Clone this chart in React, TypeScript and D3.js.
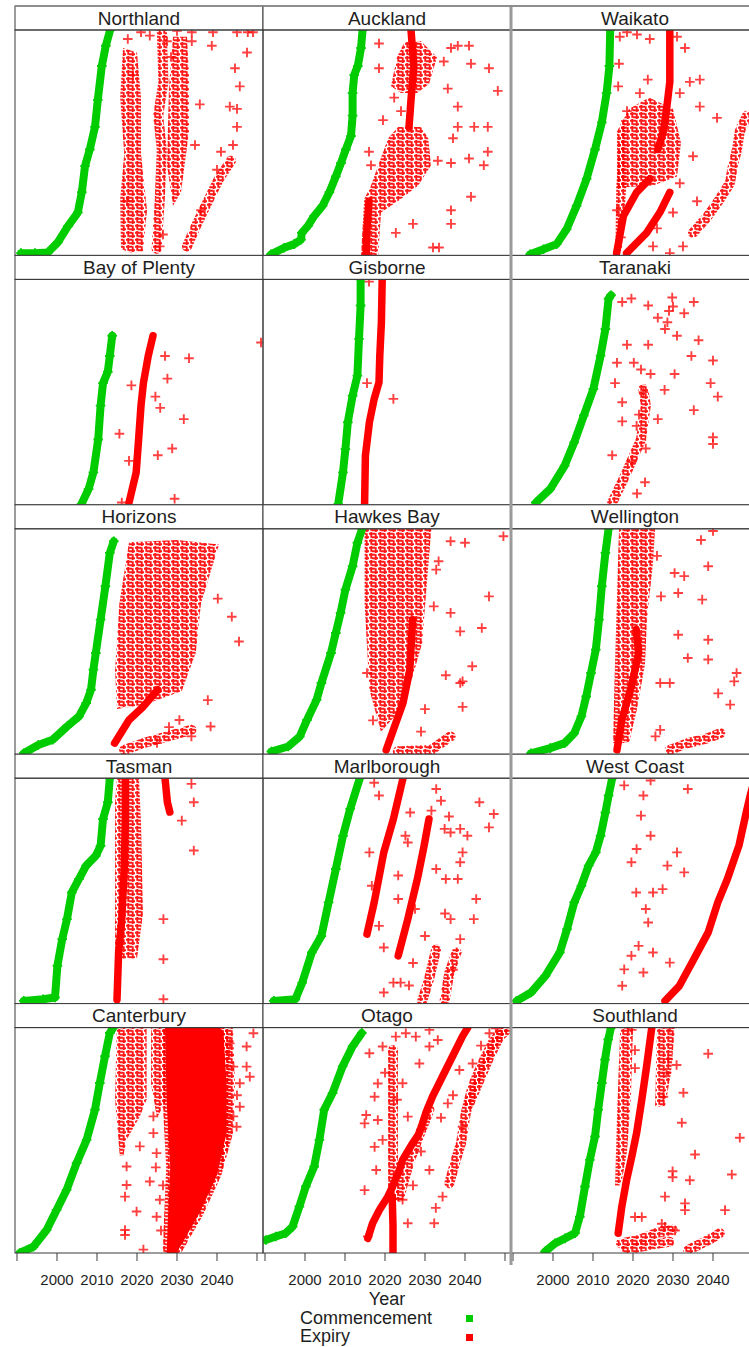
import React from "react";
import * as d3 from "d3";

type Pt = [number, number];

// panels in reading order (3 columns x 5 rows)
const regions = [
  "Northland", "Auckland", "Waikato",
  "Bay of Plenty", "Gisborne", "Taranaki",
  "Horizons", "Hawkes Bay", "Wellington",
  "Tasman", "Marlborough", "West Coast",
  "Canterbury", "Otago", "Southland",
];

const yearTicks = [1990, 2000, 2010, 2020, 2030, 2040, 2050];
const yearLabels = [2000, 2010, 2020, 2030, 2040];
const legendKeys = ["Commencement", "Expiry"];

// commencement year vs rank (% of consents), sorted by commencement
const commencement: Pt[][] = [
  [[1991, 1], [1994.5, 1], [1997.7, 1.3], [2000.2, 5.8], [2002.7, 12.9], [2005.2, 19], [2006.2, 28], [2007, 39.6], [2008.2, 47], [2009.5, 57], [2010.2, 69], [2011.2, 84], [2012.2, 93], [2013.3, 100]],
  [[1991.5, 0.5], [1994.8, 3.4], [1997.3, 5], [1999, 7], [1999.2, 10], [2000.7, 13], [2002.3, 17.5], [2004.4, 22], [2006.1, 28], [2007.7, 35], [2009, 41], [2010.2, 47], [2011.5, 53], [2011.9, 62], [2011.9, 72], [2012.3, 80], [2013.2, 84], [2014, 92], [2014.4, 100]],
  [[1994.3, 0.5], [1997.6, 2.7], [2000.9, 5], [2003.4, 11.6], [2005.9, 22], [2008.4, 34], [2010.5, 47], [2012.2, 59], [2013.4, 72], [2014.1, 84], [2014.3, 100]],
  [[2006.1, 0.3], [2007.9, 7], [2009.1, 14.4], [2010.3, 29], [2010.9, 44], [2011.5, 54], [2012.7, 59], [2013.2, 66], [2013.8, 75]],
  [[2008.3, 0.3], [2009.5, 14.4], [2010.1, 24.7], [2010.7, 36.6], [2011.9, 48.4], [2013.1, 57.3], [2013.5, 73.6], [2013.9, 88.4], [2013.9, 100]],
  [[1995.7, 1], [1999.3, 7], [2002.9, 17.3], [2005.3, 27.7], [2007.7, 39.6], [2010.1, 51.4], [2011.9, 66.2], [2013.1, 78], [2013.9, 91.4], [2014.5, 93]],
  [[1991.7, 0.4], [1995.3, 4.1], [1998.9, 6.4], [2002.5, 12.3], [2005.5, 16.8], [2007.3, 22.7], [2008.5, 28.6], [2009.1, 37.5], [2009.7, 44.9], [2010.9, 59.7], [2012.1, 74.5], [2013.2, 89.3], [2014.2, 94.5]],
  [[1991.6, 1.2], [1995.8, 3.4], [1998.7, 7.9], [2000.5, 15.2], [2002.9, 24.1], [2004.1, 31.6], [2006.5, 44.9], [2007.7, 53.8], [2008.9, 62.7], [2010.1, 73], [2011.9, 83.4], [2013.1, 93.8], [2014.3, 100]],
  [[1994.5, 0.4], [1999.3, 2.7], [2002.9, 4.9], [2005.3, 9.3], [2007.1, 16.8], [2008.3, 25.6], [2009.5, 36], [2010.7, 46.4], [2011.5, 59.7], [2012.2, 74.5], [2013.1, 89.3], [2013.9, 100]],
  [[1991.7, 1.2], [1996.5, 1.9], [1999.5, 2.7], [2000.1, 16.8], [2001.3, 28.6], [2002.5, 37.5], [2003.7, 49.3], [2005.5, 55.3], [2007.3, 61.2], [2009.7, 65.6], [2010.9, 70], [2011.5, 81.9], [2012.7, 89.3], [2013.2, 100]],
  [[1992.2, 1.2], [1997.6, 1.9], [1999.3, 9.3], [2001.7, 22.7], [2004.1, 30], [2005.9, 44.9], [2007.7, 59.7], [2009.5, 74.5], [2011.3, 86.4], [2013.7, 100]],
  [[1990.9, 1.2], [1994.5, 4.9], [1998.1, 12.3], [2001.7, 22.7], [2003.5, 33], [2005.3, 44.9], [2007.1, 52.3], [2008.9, 61.2], [2010.7, 67.1], [2011.9, 74.5], [2013.1, 84.8], [2013.9, 92.3], [2014.8, 100]],
  [[1990.7, 0], [1994.1, 2.8], [1997.4, 10.2], [1999.9, 19.1], [2002.4, 28], [2004.9, 39.9], [2007.4, 50.2], [2009.5, 63.6], [2010.7, 75.4], [2012, 87.3], [2013.2, 97.6], [2014.1, 100]],
  [[1990.2, 5.8], [1992.7, 7.3], [1995.2, 8.8], [1996.9, 11.7], [1998.6, 20.6], [2000.2, 29.5], [2002.3, 38.4], [2003.6, 50.2], [2004.8, 63.6], [2006.9, 71], [2009.4, 82.8], [2011.9, 91.7], [2014.2, 97.6]],
  [[1998, 0.6], [2000.5, 4.3], [2003, 6.5], [2005.5, 8.8], [2006.7, 16.1], [2008, 29.5], [2009.2, 41.3], [2010.5, 51.7], [2011.3, 63.6], [2012.2, 75.4], [2013, 85.8], [2013.8, 94.7], [2014.5, 100]],
];

// expiry: runs of consents so packed they read as a solid band
const expiryBands: Pt[][][] = [
  [],
  [[[2026, 57], [2026.5, 69], [2027.2, 84], [2026.5, 100]], [[2015.3, 0], [2015.5, 12], [2016, 24]]],
  [[[2026.2, 47], [2027.6, 55], [2028.4, 65], [2029.2, 77], [2029.2, 100]], [[2015.9, 1], [2017.6, 17.5], [2020.9, 28], [2024.2, 34]], [[2018.4, 1], [2023.4, 10], [2026.7, 19], [2029.2, 28]]],
  [[[2018, 1], [2019.8, 14.4], [2020.4, 29], [2021, 44], [2021.6, 54], [2022.8, 66], [2024, 75]]],
  [[[2014.9, 0.3], [2015.1, 21.8], [2016.1, 36.6], [2017.3, 47], [2018.5, 54.4], [2018.7, 66.2], [2019.1, 81], [2019.3, 100]]],
  [],
  [[[2014.4, 4.9], [2018, 15.2], [2021.6, 21.2], [2025.2, 28.6]]],
  [[[2020.3, 1.9], [2022.1, 10.8], [2024.5, 22.7], [2026.2, 37.5], [2026.9, 59.7]]],
  [[[2016, 1.9], [2017.2, 15.2], [2019.6, 30], [2021.4, 44.9], [2020.8, 55.3]]],
  [[[2015, 1.8], [2015.4, 22.7], [2016.2, 37.5], [2016.8, 59.7], [2017.1, 81.9], [2017.1, 100]], [[2027, 100], [2027.6, 89.3], [2028.2, 85]]],
  [[[2015.5, 30.8], [2017.3, 44.9], [2019.7, 67.1], [2022.1, 81.9], [2024.5, 100]], [[2023.3, 21.2], [2025.7, 37.5], [2028.1, 55.3], [2029.8, 70.2], [2031, 81.9]]],
  [[[2028, 1.2], [2031.6, 7.9], [2035.2, 19.7], [2038.8, 31.6], [2041.2, 44.9], [2043.6, 55.3], [2046.5, 70.2], [2048.3, 84.8], [2049.3, 92.3], [2050.5, 100]]],
  [],
  [[[2022, 0], [2022, 12], [2021.8, 25]], [[2015.7, 6.5], [2016.9, 13.2], [2018.6, 19.1], [2020.7, 25], [2021.9, 29.5], [2023.6, 36.9], [2024.4, 41.3], [2026.9, 48.7], [2028.6, 53.2], [2030.2, 62.1], [2031.9, 69.5], [2034.4, 78.4], [2036.9, 87.3], [2039.4, 96.2], [2040.7, 100]]],
  [[[2016.3, 8.8], [2017.2, 20.6], [2018.4, 32.4], [2019.7, 42.8], [2020.9, 53.2], [2022.2, 68], [2023.4, 82.8], [2024.7, 100]]],
];

// expiry: looser runs of markers
const expiryRuns: Pt[][][] = [
  [[[2024.9, 3], [2025.7, 25], [2026.2, 47], [2025.3, 62], [2026.6, 77], [2026.2, 100]], [[2032.5, 4], [2035, 14], [2038, 25], [2040.5, 34], [2043.5, 42]]],
  [],
  [[[2035, 10], [2038.5, 17], [2041.7, 25], [2044.2, 32], [2045, 40], [2046, 47], [2046.7, 55], [2048.5, 62]]],
  [],
  [],
  [[[2014.8, 1], [2018.4, 14.4], [2022, 29], [2023.2, 44], [2022.6, 51.4]]],
  [[[2016.8, 1.9], [2021.6, 4.9], [2027.6, 7.9], [2033.6, 10.8]]],
  [[[2023.2, 1.3], [2031.6, 1.9], [2036.4, 7.9]]],
  [[[2029.2, 1.9], [2033.7, 4.9], [2038.8, 7.1], [2041.8, 9.3]]],
  [],
  [[[2029.3, 1.2], [2031, 10.8], [2032.2, 19.7], [2032.8, 24.1]], [[2034.9, 1.2], [2036.1, 13.8], [2037.9, 22.7]]],
  [],
  [],
  [[[2023.6, 25], [2026, 40], [2028.5, 52], [2031.1, 63.6]], [[2036.1, 31], [2037.7, 41.3], [2039, 48.7], [2040.2, 62.1], [2041.9, 73.9], [2044.4, 84.3], [2046.9, 93.2], [2049.4, 99]], [[2041.1, 66.4], [2043.6, 76.7], [2046.1, 87.1], [2048.6, 96], [2051, 100]], [[2022, 25], [2022, 90]]],
  [[[2017, 4.3], [2021.6, 5.8], [2025.7, 8.8], [2029.9, 10.3]], [[2018.2, 1.3], [2024.1, 3.6], [2029.1, 5]], [[2033.8, 1.3], [2037.2, 4.3], [2039.7, 6.5], [2041.7, 8.8]]],
];

// expiry: outlines of crowded clouds of markers
const expiryClouds: Pt[][][] = [
  [[[2016, 3], [2018.5, 1], [2021.5, 2], [2022.5, 20], [2021, 45], [2021, 70], [2020, 90], [2016.5, 92], [2015.8, 70], [2016.8, 45], [2015.8, 25]], [[2027.5, 40], [2029, 22], [2031, 28], [2033, 55], [2033, 80], [2032.5, 97], [2029, 97], [2028, 75]]],
  [[[2014, 0], [2014.8, 25], [2016.5, 31], [2018.3, 40], [2020.8, 52], [2023.3, 57], [2026, 57], [2029, 57], [2030.8, 52], [2031.5, 40], [2028.3, 31], [2024, 25], [2019, 19], [2018.3, 0]], [[2021.5, 75], [2023, 88], [2025, 95], [2029, 95], [2033, 88], [2031, 76], [2028, 72], [2024, 72]]],
  [[[2016, 30], [2016, 55], [2019, 65], [2024, 70], [2030, 65], [2032, 50], [2031, 35], [2025, 31]], [[2015.6, 2], [2017.2, 2], [2018.3, 30], [2018, 60], [2017, 60], [2015.8, 30]]],
  [],
  [],
  [],
  [[[2015, 20], [2014.5, 37], [2015.6, 67], [2018, 94], [2030, 95], [2040.5, 93], [2036, 67], [2034.7, 45], [2031.2, 28], [2022, 22]]],
  [[[2014.9, 100], [2031.6, 100], [2030.4, 74.5], [2029.3, 49.3], [2026.9, 34.5], [2024, 20], [2019, 10], [2016.1, 28.6], [2014.9, 67]]],
  [[[2015, 5], [2015.5, 40], [2016, 70], [2016.5, 100], [2025.5, 100], [2025, 85], [2023.5, 60], [2023, 40], [2021, 20], [2019, 5]]],
  [[[2014.5, 20], [2014.5, 90], [2015, 100], [2020.5, 100], [2021, 80], [2021.5, 40], [2020, 20]]],
  [],
  [],
  [[[2014.9, 97.6], [2014.5, 68], [2015.7, 43], [2016.6, 43], [2017.4, 50.2], [2020.7, 60.6], [2022.4, 68], [2022.4, 100], [2015, 100]], [[2023.5, 100], [2027, 100], [2027.4, 68], [2025, 60], [2023.5, 75]], [[2040, 100], [2044, 100], [2044.5, 75], [2044, 53], [2041, 34]]],
  [],
  [[[2015.5, 30], [2016, 60], [2016.8, 100], [2020, 100], [2019.5, 70], [2018.5, 45], [2017, 30]], [[2025.5, 65], [2026, 100], [2030.5, 100], [2029.5, 80], [2028, 65]]],
];

// expiry: the near-solid mass in Canterbury
const expiryMasses: Pt[][][] = [
  [], [], [], [], [], [], [], [], [], [], [], [],
  [[[2027.4, 0], [2028.3, 38], [2027.4, 68], [2027, 100], [2040.7, 100], [2041.6, 98], [2042.4, 75], [2042.4, 53], [2039.9, 34], [2035.7, 18], [2029.9, 0]]],
  [], [],
];

// expiry: separate markers
const expiryPoints: Pt[][] = [
  [[2017.7, 96], [2023.2, 97.5], [2030, 99.6], [2033.7, 99], [2033.7, 95], [2039, 99], [2038.7, 93], [2045, 99], [2049, 99], [2047.5, 90], [2044.5, 83], [2045.7, 75], [2043.2, 66], [2035.7, 67], [2045, 57], [2044, 49], [2034.5, 49], [2017.5, 24], [2026.5, 9.3], [2025.7, 4], [2045, 65], [2047.7, 99], [2040, 38], [2036, 20], [2021, 99], [2027.5, 95], [2028.5, 88], [2019, 80], [2041, 46]],
  [[2018.5, 94], [2018.5, 83], [2022.3, 70], [2016, 46], [2016.5, 40], [2034.7, 86], [2035.7, 74], [2036.5, 92], [2038.2, 93], [2041, 93], [2041.5, 85], [2046, 83], [2048.2, 73], [2038.2, 66], [2038.2, 57], [2037, 52], [2042.3, 57], [2045.7, 57], [2045.7, 46], [2041, 43], [2044.7, 40], [2036.5, 41], [2033.2, 42], [2041.5, 26], [2036.5, 20], [2036.5, 14], [2027, 14], [2022.7, 10], [2032, 3.5], [2033.5, 3.5], [2019.5, 60], [2024, 64]],
  [[2016.7, 97], [2018.5, 99], [2021, 98], [2024.2, 96], [2034.2, 77], [2036.7, 66], [2036.7, 78], [2041, 61], [2031.7, 72], [2023.7, 78], [2021.7, 72], [2018.5, 64], [2035, 44], [2031.7, 32], [2036, 24], [2030, 19], [2026, 12], [2032.5, 4], [2025, 4], [2029.2, 1], [2016.5, 85], [2016.3, 75], [2016, 20], [2017, 8], [2033, 92], [2031, 97]],
  [[2027, 66], [2033, 65], [2027.6, 56], [2018.6, 53], [2024.6, 48], [2025.8, 43], [2031.7, 38], [2015.6, 31.5], [2028.8, 25], [2025.2, 22], [2018, 19.5], [2029.4, 2.7], [2016.2, 1], [2051, 72]],
  [[2022.1, 47], [2015.5, 54], [2016, 99]],
  [[2017.3, 90], [2019.6, 91.5], [2023.8, 88.4], [2026.2, 83], [2028.6, 81], [2029.8, 92], [2031, 75], [2032.8, 85], [2035.2, 90], [2036.4, 73], [2034.6, 66], [2040, 64], [2039.4, 54], [2041.2, 48], [2035.2, 42], [2040, 30], [2018.5, 71], [2023.8, 71], [2016, 63], [2020.2, 63], [2024.4, 58], [2030.4, 58], [2015.5, 54], [2022.6, 50], [2027.9, 51], [2017.3, 45.5], [2026.2, 38], [2017.3, 37], [2020.9, 35], [2014.8, 22], [2019.6, 19], [2023.2, 25], [2040, 27], [2029, 86], [2028, 78], [2030, 88], [2022, 60], [2021.5, 40], [2023, 10], [2021, 5]],
  [[2040.2, 69], [2043.7, 61], [2045.5, 50], [2037.7, 24], [2038.4, 12.3], [2030.6, 15.2], [2033.6, 7.9], [2028, 12], [2025, 5]],
  [[2036.4, 94.5], [2040, 93.8], [2049.6, 96.7], [2033.4, 85.6], [2032.8, 81.9], [2046, 70], [2032.2, 65.6], [2036.4, 62.7], [2044.2, 56], [2038.8, 54.5], [2041.8, 39], [2035.2, 35], [2039.4, 32.3], [2015.5, 36], [2039.4, 21], [2038.8, 31.6], [2030, 20], [2029, 10], [2017, 15]],
  [[2040, 99], [2030.4, 80.4], [2032.8, 79], [2038.8, 83.4], [2031.3, 71.5], [2037.3, 68.6], [2038.8, 50.8], [2031.3, 53], [2033.7, 42.7], [2038.8, 42], [2045.9, 36], [2045.3, 32.3], [2029.2, 31.6], [2026.8, 31.6], [2041.3, 27], [2044.3, 22], [2026.8, 10.8], [2025.6, 7.9], [2037, 95], [2026, 88], [2027, 70]],
  [[2031.2, 81.2], [2034.2, 89.3], [2033.6, 97.5], [2034.2, 67.9], [2026.6, 37.5], [2026.6, 19.7], [2026.6, 1.9]],
  [[2016.1, 67.1], [2016.7, 52.3], [2018.5, 34.5], [2023.3, 56.8], [2025.1, 74.5], [2025.7, 71.5], [2026.3, 84.8], [2032.8, 95.2], [2031.6, 85.6], [2036.4, 75.9], [2038.8, 77.5], [2040.6, 74.5], [2043.6, 89.3], [2047.2, 84.1], [2046, 78.2], [2034.9, 77.5], [2038.8, 62.7], [2039.4, 67.1], [2032.8, 59.7], [2035.2, 55.3], [2038.2, 55.3], [2042.8, 46.4], [2042.2, 37.5], [2036.4, 37.5], [2038.8, 28.6], [2023.3, 46.4], [2027.5, 42], [2019.7, 24.9], [2022.1, 9.3], [2023.9, 9.3], [2019.7, 4.9], [2017.3, 98], [2018.5, 92.3], [2034, 90], [2036, 83], [2030, 30], [2027, 18], [2026, 8], [2035, 40], [2037, 15]],
  [[2017.8, 96.8], [2024.4, 99], [2033.7, 95.2], [2022.6, 92.3], [2022, 83.4], [2024.4, 74.5], [2020.9, 68.6], [2031, 67.1], [2019.6, 62.7], [2028.6, 61.2], [2032.8, 58.2], [2025, 49.3], [2020.8, 49.3], [2027.4, 50.8], [2023.2, 42], [2023.8, 36], [2021.4, 25.6], [2019.6, 21.2], [2025, 22.7], [2029.2, 18.2], [2017.8, 15.2], [2022.6, 13.8], [2017.3, 7.9]],
  [[2049.1, 97.5], [2047.4, 91.6], [2047.4, 82.7], [2045.7, 75.3], [2045.7, 64.9], [2044.9, 56], [2043.2, 93], [2044.1, 82.7], [2048.2, 78.2], [2044.1, 60.6], [2017.4, 30.2], [2017, 25], [2019.9, 18.4], [2017, 10.2], [2017, 8], [2024.1, 60.6], [2024.1, 53.2], [2024.9, 44.3], [2024.7, 38], [2023.2, 31.7], [2025.7, 23.6], [2024.9, 16.1], [2021.6, 1.5], [2020.7, 47.3], [2017.4, 38.4], [2026, 10], [2026.5, 30], [2043, 88], [2045, 70]],
  [[2016.1, 88.6], [2019.4, 91.6], [2022.7, 96], [2025.2, 97.5], [2027.7, 96], [2031.1, 99], [2033.2, 94.5], [2018.2, 75.2], [2017.4, 69.3], [2015.3, 61.2], [2014.9, 57.5], [2018.2, 59], [2017.4, 47.1], [2017.8, 36.8], [2014.9, 27.9], [2015.7, 7.3], [2019.4, 50.2], [2024.4, 23.6], [2025.7, 13.2], [2032.7, 20], [2032.3, 13.2], [2034.4, 25], [2031.1, 36.8], [2035.7, 66.4], [2039.4, 56], [2025.7, 60.5], [2024.4, 75.3], [2028.6, 84.1], [2031.1, 91.6], [2038.6, 81.2], [2041.9, 84.1], [2046.1, 97.5], [2047.7, 99.7], [2020, 80], [2023, 68], [2027, 30], [2029, 45], [2034, 60], [2037, 70], [2044, 92]],
  [[2038.8, 88.4], [2032.6, 71.1], [2032.2, 57.8], [2046.7, 51.1], [2035.5, 43.7], [2044.7, 34.8], [2029.9, 36.3], [2029.9, 33.6], [2034.2, 32.3], [2028, 25], [2033, 22], [2033, 19], [2043, 19], [2022.2, 16], [2020.5, 16], [2027.2, 13], [2030.5, 10], [2028, 11.6], [2019.7, 99], [2018.9, 100], [2029.2, 100], [2028.8, 86], [2030.9, 83.4], [2028.4, 80], [2027.6, 69.3], [2020.5, 82], [2020.5, 90]],
];

const W = 749;
const H = 1347;
const X0 = 15;
const COL_W = 248;
const TOP = 6;
const STRIP_H = 24;
const PANEL_H = 225.4;
const ROW_H = STRIP_H + PANEL_H;
const YEAR_MIN = 1989.5;
const YEAR_MAX = YEAR_MIN + COL_W / 4;
const GREEN = "#00cc00";
const RED = "#ff0000";
const FONT = "'Liberation Sans', Arial, sans-serif";
const BOTTOM = TOP + 5 * ROW_H;

const plus = (a: number) => `M${-a},0H${a}M0,${-a}V${a}`;

function Panel({ i }: { i: number }) {
  const col = i % 3;
  const row = Math.floor(i / 3);
  const left = X0 + col * COL_W;
  const stripTop = TOP + row * ROW_H;
  const top = stripTop + STRIP_H;
  const bottom = top + PANEL_H;

  const x = d3.scaleLinear().domain([YEAR_MIN, YEAR_MAX]).range([left, left + COL_W]);
  const y = d3.scaleLinear().domain([0, 100]).range([bottom, top]);
  const line = d3.line<Pt>().x(d => x(d[0])).y(d => y(d[1])).curve(d3.curveLinear);
  const shape = d3.line<Pt>().x(d => x(d[0])).y(d => y(d[1])).curve(d3.curveLinearClosed);

  return (
    <g>
      <clipPath id={`clip-${i}`}>
        <rect x={left} y={top} width={COL_W} height={PANEL_H} />
      </clipPath>
      <g clipPath={`url(#clip-${i})`}>
        {expiryClouds[i].map((p, k) => (
          <path key={`c${k}`} d={shape(p) ?? ""} fill="url(#plusTex)" />
        ))}
        {expiryMasses[i].map((p, k) => (
          <path key={`m${k}`} d={shape(p) ?? ""} fill={RED} stroke="url(#plusTex)" strokeWidth={8} strokeLinejoin="round" />
        ))}
        {expiryRuns[i].map((p, k) => (
          <path key={`r${k}`} d={line(p) ?? ""} fill="none" stroke="url(#plusTex)" strokeWidth={10} strokeLinecap="round" strokeLinejoin="round" />
        ))}
        {expiryBands[i].map((p, k) => (
          <path key={`b${k}`} d={line(p) ?? ""} fill="none" stroke={RED} strokeWidth={7.5} strokeLinecap="round" strokeLinejoin="round" />
        ))}
        {expiryPoints[i].map((p, k) => (
          <path key={`p${k}`} d={plus(4.8)} transform={`translate(${x(p[0])},${y(p[1])})`} stroke={RED} strokeOpacity={0.75} strokeWidth={1.9} fill="none" />
        ))}
        <path d={line(commencement[i]) ?? ""} fill="none" stroke={GREEN} strokeWidth={8} strokeLinecap="round" strokeLinejoin="round" />
        {commencement[i].map((p, k) => (
          <path key={`g${k}`} d={plus(4.8)} transform={`translate(${x(p[0])},${y(p[1])})`} stroke={GREEN} strokeWidth={1.9} fill="none" />
        ))}
      </g>
      <rect x={left} y={stripTop} width={COL_W} height={STRIP_H} fill="white" stroke="#3a3a3a" strokeWidth={1} />
      <text x={left + COL_W / 2} y={stripTop + STRIP_H / 2 + 6.5} textAnchor="middle" fontSize={19} fill="#1e1e1e" fontFamily={FONT}>
        {regions[i]}
      </text>
      <rect x={left} y={top} width={COL_W} height={PANEL_H} fill="none" stroke="#3a3a3a" strokeWidth={1} />
      {row === 4 &&
        yearTicks.map(t => (
          <line key={`t${t}`} x1={x(t)} x2={x(t)} y1={bottom} y2={bottom + 8} stroke="#3a3a3a" strokeWidth={1} />
        ))}
      {row === 4 &&
        yearLabels.map(t => (
          <text key={`l${t}`} x={x(t)} y={bottom + 32} textAnchor="middle" fontSize={15} fill="#1e1e1e" fontFamily={FONT}>
            {t}
          </text>
        ))}
    </g>
  );
}

export default function App() {
  const legendColors = [GREEN, RED];
  return (
    <div style={{ position: "absolute", left: 0, top: 0, width: W, height: H, overflow: "hidden", background: "white" }}>
      <svg width={W} height={H} style={{ display: "block" }}>
        <defs>
          <pattern id="plusTex" width={9} height={7} patternUnits="userSpaceOnUse">
            <path d={plus(4)} transform="translate(2.25,1.75)" stroke={RED} strokeOpacity={0.9} strokeWidth={1.9} fill="none" />
            <path d={plus(4)} transform="translate(6.75,5.25)" stroke={RED} strokeOpacity={0.9} strokeWidth={1.9} fill="none" />
          </pattern>
        </defs>
        <rect width={W} height={H} fill="white" />
        {regions.map((r, i) => (
          <Panel key={r} i={i} />
        ))}
        <line x1={X0 + 2 * COL_W} x2={X0 + 2 * COL_W} y1={TOP} y2={BOTTOM + 12} stroke="#9a9a9a" strokeWidth={3} />
        <line x1={X0} x2={W} y1={TOP} y2={TOP} stroke="#8a8a8a" strokeWidth={1.5} />
        <text x={X0 + 1.5 * COL_W} y={1305} textAnchor="middle" fontSize={18} fill="#1e1e1e" fontFamily={FONT}>
          Year
        </text>
        {legendKeys.map((k, j) => (
          <g key={k}>
            <text x={300} y={1324 + j * 18} fontSize={18} fill="#1e1e1e" fontFamily={FONT}>
              {k}
            </text>
            <rect x={466} y={1315 + j * 19} width={7} height={7} fill={legendColors[j]} />
          </g>
        ))}
      </svg>
    </div>
  );
}
